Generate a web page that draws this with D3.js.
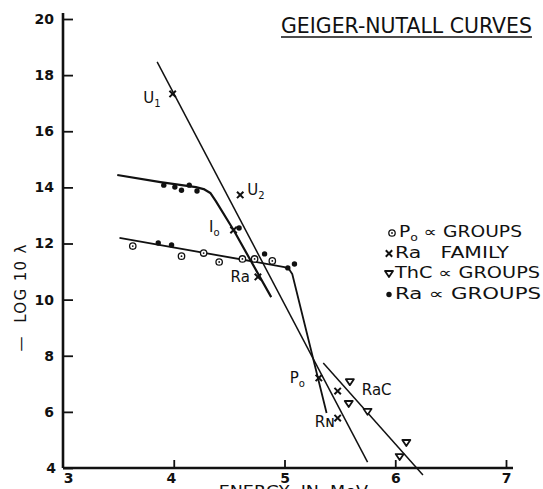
<!DOCTYPE html>
<html>
<head>
<meta charset="utf-8">
<script src="https://cdn.jsdelivr.net/npm/d3@7"></script>
<style>
    body { margin: 0; background: #fff; }
    text { font-family: "DejaVu Sans", sans-serif; fill: #111; }
</style>
</head>
<body>
<div class="view1"></div>
<script>
// axis ticks
const energyTicks = [3, 4, 5, 6, 7];
const logTicks = [4, 6, 8, 10, 12, 14, 16, 18, 20];

// Ra family (crosses), "_" marks a one letter subscript
const raFamilyNames = ["U_1", "U_2", "I_o", "Ra", "P_o", "", "Rɴ"];
const raFamilyEnergy = [3.99, 4.60, 4.54, 4.76, 5.31, 5.48, 5.48];
const raFamilyLog = [17.33, 13.73, 12.48, 10.81, 7.21, 6.74, 5.78];

// Po alpha groups (open circles)
const poEnergy = [3.63, 4.07, 4.27, 4.41, 4.62, 4.73, 4.89];
const poLog = [11.91, 11.55, 11.66, 11.34, 11.45, 11.45, 11.38];

// Ra alpha groups (dots)
const raAlphaEnergy = [3.86, 3.98, 3.91, 4.01, 4.07, 4.14, 4.21, 4.59, 4.82, 5.03, 5.09];
const raAlphaLog = [12.02, 11.95, 14.08, 14.01, 13.90, 14.08, 13.87, 12.55, 11.63, 11.13, 11.27];

// ThC alpha groups (triangles)
const thcEnergy = [5.59, 5.58, 5.75, 6.10, 6.04];
const thcLog = [7.06, 6.28, 6.00, 4.89, 4.39];

// hand drawn curves
const familyLineE = [3.85, 5.75];
const familyLineL = [18.47, 4.21];
const raCurveE = [3.49, 3.88, 4.20, 4.27, 4.33, 4.38, 4.54, 4.88];
const raCurveL = [14.44, 14.19, 14.01, 13.94, 13.80, 13.51, 12.48, 10.09];
const poCurveE = [3.51, 5.00, 5.04, 5.07, 5.38];
const poCurveL = [12.20, 11.16, 11.09, 10.91, 5.96];
const thcLineE = [5.35, 6.25];
const thcLineL = [7.74, 3.75];

// legend
const legendKeys = ["po", "ra", "thc", "dot"];
const legendTexts = ["P_o ∝ GROUPS", "Ra   FAMILY", "ThC ∝ GROUPS", "Ra ∝ GROUPS"];

/** Class drawing the Geiger-Nutall plot */
class GeigerPlot {

    constructor(){
        this.width = 543;
        this.height = 489;
        this.margin = {top: 19, right: 37, bottom: 21, left: 63};
    }

    // writes "A_bc" as A, subscript b, then c on the baseline again
    label(sel, name){
        let i = name.indexOf("_");
        if (i < 0) { sel.text(name); return; }
        sel.append("tspan").text(name.slice(0, i));
        sel.append("tspan").attr("font-size", 10).attr("dy", 4).text(name[i + 1]);
        let rest = name.slice(i + 2);
        if (rest) sel.append("tspan").attr("dy", -4).text(rest);
    }

    // the four marker kinds
    marker(sel, kind){
        if (kind == "ra") {
            sel.append("path").attr("d", "M-3.2,-3.2L3.2,3.2M3.2,-3.2L-3.2,3.2")
                .attr("stroke", "#111").attr("stroke-width", 2);
        } else if (kind == "po") {
            sel.append("circle").attr("r", 3.2).attr("fill", "#fff")
                .attr("stroke", "#111").attr("stroke-width", 1.3);
            sel.append("circle").attr("r", 0.9).attr("fill", "#111");
        } else if (kind == "dot") {
            sel.append("circle").attr("r", 2.7).attr("fill", "#111");
        } else {
            sel.append("path").attr("d", "M-4,-3L4,-3L0,3Z").attr("fill", "#fff")
                .attr("stroke", "#111").attr("stroke-width", 1.8).attr("stroke-linejoin", "round");
        }
    }

    draw(){
        let svg = d3.select(".view1").append("svg")
            .attr("width", this.width)
            .attr("height", this.height);

        let x = d3.scaleLinear().domain([3, 7]).range([this.margin.left, this.width - this.margin.right]);
        let y = d3.scaleLinear().domain([4, 20]).range([this.height - this.margin.bottom, this.margin.top]);

        // axes - ticks point inwards
        let xAxis = svg.append("g")
            .attr("transform", "translate(0," + y(4) + ")")
            .call(d3.axisBottom(x).tickValues(energyTicks).tickFormat(d3.format("d"))
                .tickSize(-8).tickPadding(5).tickSizeOuter(0));
        let yAxis = svg.append("g")
            .attr("transform", "translate(" + x(3) + ",0)")
            .call(d3.axisLeft(y).tickValues(logTicks).tickFormat(d3.format("d"))
                .tickSize(-10).tickPadding(9).tickSizeOuter(0));
        svg.selectAll(".domain").remove();
        svg.selectAll(".tick line").attr("stroke", "#111").attr("stroke-width", 1.8);
        svg.selectAll(".tick text")
            .attr("font-family", "DejaVu Sans").attr("font-size", 14)
            .attr("font-weight", "bold").attr("fill", "#111");
        xAxis.select(".tick line").remove();
        // nudge the corner labels apart like the drawing
        xAxis.selectAll(".tick text").attr("dx", d => d == 3 ? 5 : (d == 4 ? -3 : 0));
        yAxis.selectAll(".tick text").attr("dx", d => d == 4 ? 2 : 0);

        svg.append("line")
            .attr("x1", x(3)).attr("x2", x(7) + 7)
            .attr("y1", y(4)).attr("y2", y(4))
            .attr("stroke", "#111").attr("stroke-width", 2.6);
        svg.append("line")
            .attr("x1", x(3)).attr("x2", x(3))
            .attr("y1", y(4)).attr("y2", y(20) - 6)
            .attr("stroke", "#111").attr("stroke-width", 2.6);

        // curves first so the markers sit on top
        let line = d3.line().x(d => x(d[0])).y(d => y(d[1]));
        let curves = [
            [familyLineE, familyLineL, 1.5],
            [raCurveE, raCurveL, 2.2],
            [poCurveE, poCurveL, 1.8],
            [thcLineE, thcLineL, 1.5]
        ];
        svg.append("g").selectAll("path")
            .data(curves)
            .enter().append("path")
            .attr("d", d => line(d3.zip(d[0], d[1])))
            .attr("fill", "none")
            .attr("stroke", "#111")
            .attr("stroke-width", d => d[2])
            .attr("stroke-linejoin", "round");

        let groups = [
            ["po", poEnergy, poLog],
            ["dot", raAlphaEnergy, raAlphaLog],
            ["thc", thcEnergy, thcLog],
            ["ra", raFamilyEnergy, raFamilyLog]
        ];
        groups.forEach(g => {
            svg.append("g").selectAll("g")
                .data(d3.zip(g[1], g[2]))
                .enter().append("g")
                .attr("transform", d => "translate(" + x(d[0]) + "," + y(d[1]) + ")")
                .each((d, i, n) => this.marker(d3.select(n[i]), g[0]));
        });

        // names next to the Ra family crosses
        let offsets = {
            "U_1": [-12, 9, "end"], "U_2": [7, 0, "start"], "I_o": [-14, 2, "end"],
            "Ra": [-8, 5, "end"], "P_o": [-14, 5, "end"], "Rɴ": [-3, 9, "end"]
        };
        raFamilyNames.forEach((name, i) => {
            if (!name) return;
            let o = offsets[name];
            let t = svg.append("text")
                .attr("x", x(raFamilyEnergy[i]) + o[0])
                .attr("y", y(raFamilyLog[i]) + o[1])
                .attr("text-anchor", o[2])
                .attr("font-size", 15);
            this.label(t, name);
        });
        svg.append("text")
            .attr("x", x(thcEnergy[0]) + 12)
            .attr("y", y(thcLog[0]) + 13)
            .attr("font-size", 15)
            .text("RaC");

        // legend
        let widths = [123, 114, 145, 146];
        legendKeys.forEach((k, i) => {
            let ly = 233 + i * 20.5;
            let m = svg.append("g").attr("transform", "translate(" + (k == "po" ? 392 : 389) + "," + ly + ")");
            this.marker(m, k);
            let t = svg.append("text")
                .attr("x", k == "po" ? 399 : 395)
                .attr("y", ly + 4)
                .attr("font-size", 15)
                .attr("textLength", widths[i])
                .attr("lengthAdjust", "spacingAndGlyphs")
                .style("white-space", "pre");
            this.label(t, legendTexts[i]);
        });

        // title
        svg.append("text")
            .attr("x", 281).attr("y", 33)
            .attr("font-size", 21)
            .attr("textLength", 251)
            .attr("lengthAdjust", "spacingAndGlyphs")
            .text("GEIGER-NUTALL CURVES");
        svg.append("line")
            .attr("x1", 281).attr("x2", 532).attr("y1", 37).attr("y2", 37)
            .attr("stroke", "#111").attr("stroke-width", 1.5);

        // axis titles
        svg.append("text")
            .attr("transform", "translate(26,298) rotate(-90)")
            .attr("text-anchor", "middle")
            .attr("font-size", 15)
            .attr("textLength", 107)
            .attr("lengthAdjust", "spacing")
            .style("white-space", "pre")
            .text("—  LOG 10 λ");
        svg.append("text")
            .attr("x", 195).attr("y", 497)
            .attr("font-size", 16)
            .attr("textLength", 173)
            .attr("lengthAdjust", "spacingAndGlyphs")
            .style("white-space", "pre")
            .text("∝  ENERGY  IN  MeV");
    }
}

let plot = new GeigerPlot();
plot.draw();
</script>
</body>
</html>
